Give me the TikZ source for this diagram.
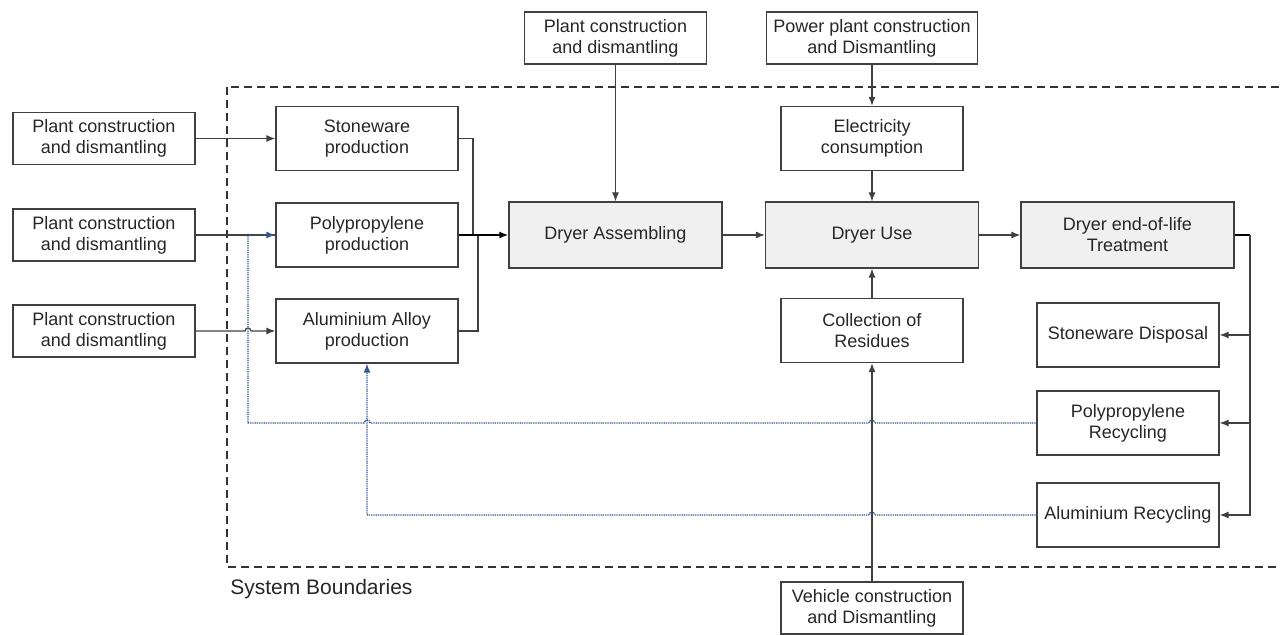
\documentclass[tikz,border=0pt]{standalone}
\usepackage{fontspec}
\setmainfont{Liberation Sans}
\usetikzlibrary{arrows.meta}
\definecolor{boxline}{HTML}{404040}
\definecolor{boxfill}{HTML}{F0F0F0}
\definecolor{loopblue}{HTML}{34558E}
\tikzset{
  proc/.style={draw=boxline, line width=0.6pt, align=center, text=black!85,
    font=\fontsize{9}{10.5}\selectfont, inner sep=0pt,
    minimum width=91pt, minimum height=32pt},
  outer/.style={proc, minimum height=26pt},
  mainstep/.style={proc, fill=boxfill, minimum width=106.5pt, minimum height=33pt},
  flow/.style={draw=black!75, line width=0.6pt, -{Latex[length=4.5pt,width=3.5pt]}},
  plain/.style={draw=black!75, line width=0.6pt},
  recyc/.style={draw=loopblue, line width=0.7pt, dash pattern=on 0.5pt off 0.4pt,
    -{Latex[length=4.5pt,width=3.5pt]}},
}
\begin{document}
\begin{tikzpicture}[x=0.5pt, y=-0.5pt]
\useasboundingbox (0,0) rectangle (1281,635);
\clip (0,0) rectangle (1281,635);

% system boundary
\draw[black!80, line width=0.6pt, dash pattern=on 4pt off 2.5pt] (227,87) rectangle (1300,567);
\node[anchor=west, inner sep=0pt, font=\fontsize{10.5}{12}\selectfont, text=black!85] (sysb) at (230,589) {System Boundaries};

% left column
\node[outer] (plA) at (104,138.5) {Plant construction\\and dismantling};
\node[outer] (plB) at (104,235) {Plant construction\\and dismantling};
\node[outer] (plC) at (104,331) {Plant construction\\and dismantling};

\node[proc] (stoneprod) at (367,138.5) {Stoneware\\production};
\node[proc] (ppprod) at (367,235) {Polypropylene\\production};
\node[proc] (alprod) at (367,331) {Aluminium Alloy\\production};

% main chain
\node[mainstep] (assembly) at (615.5,235) {Dryer Assembling};
\node[mainstep] (use) at (872,235) {Dryer Use};
\node[mainstep] (eol) at (1127.5,235) {Dryer end-of-life\\Treatment};

\node[outer] (topplant) at (615.5,38) {Plant construction\\and dismantling};
\node[outer, minimum width=105.5pt] (powerplant) at (872,38) {Power plant construction\\and Dismantling};
\node[proc] (elec) at (872,138.5) {Electricity\\consumption};
\node[proc] (coll) at (872,330.5) {Collection of\\Residues};
\node[outer] (vehicle) at (872,608) {Vehicle construction\\and Dismantling};

% end-of-life options
\node[proc] (stdisp) at (1128,335) {Stoneware Disposal};
\node[proc] (pprec) at (1128,423) {Polypropylene\\Recycling};
\node[proc] (alrec) at (1128,515) {Aluminium Recycling};

\coordinate (jPP) at (248,235);
\coordinate (jAl) at (367,515);
\coordinate (mergeS) at (473,235);
\coordinate (mergeA) at (478,235);
\coordinate (bus) at (1250,235);

% inputs
\draw[flow] (plA) -- (stoneprod);
\draw[plain] (plB) -- (ppprod);
\draw[flow] (plC.east) -- (245,331) arc[start angle=180, end angle=0, radius=1.5pt] -- (alprod.west);

\draw[plain] (stoneprod.east) -| (mergeS);
\draw[plain] (alprod.east) -| (mergeA);
\draw[flow, draw=black, line width=0.8pt] (ppprod) -- (assembly);
\draw[flow] (topplant) -- (assembly);

\draw[flow] (assembly) -- (use);
\draw[flow] (powerplant) -- (elec);
\draw[flow] (elec) -- (use);
\draw[flow] (coll) -- (use);
\draw[flow] (vehicle) -- (coll);
\draw[flow] (use) -- (eol);

% end-of-life bus
\draw[plain, draw=black, line width=0.8pt] (eol.east) -- (bus);
\draw[flow] (bus) |- (alrec.east);
\draw[flow] (bus |- stdisp.east) -- (stdisp.east);
\draw[flow] (bus |- pprec.east) -- (pprec.east);

% recycling loops
\draw[recyc] (pprec.west) -- (875,423) arc[start angle=0, end angle=180, radius=1.5pt]
  -- (370,423) arc[start angle=0, end angle=180, radius=1.5pt]
  -- (jPP |- pprec.west) -- (jPP) -- (ppprod.west);
\draw[recyc] (alrec.west) -- (875,515) arc[start angle=0, end angle=180, radius=1.5pt]
  -- (jAl) -- (alprod.south);
\end{tikzpicture}
\end{document}
